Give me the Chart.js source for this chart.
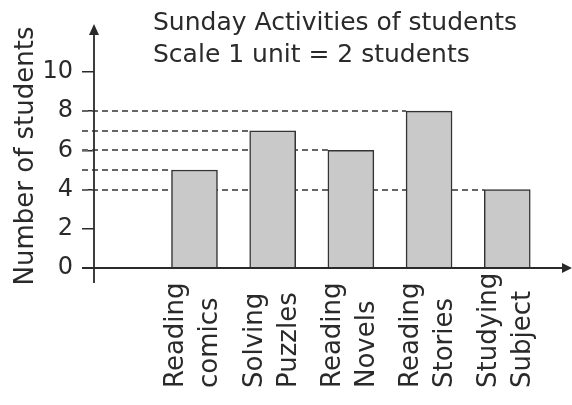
<!DOCTYPE html>
<html>
<head>
<meta charset="utf-8">
<script src="https://cdn.jsdelivr.net/npm/chart.js@4/dist/chart.umd.min.js"></script>
<style>
  body { margin: 0; background: #fff; }
</style>
</head>
<body>
<canvas id="chart" width="572" height="405"></canvas>
<script>
// chart data
const titleLines = ['Sunday Activities of students', 'Scale 1 unit = 2 students'];
const categories = [['Reading', 'comics'], ['Solving', 'Puzzles'], ['Reading', 'Novels'], ['Reading', 'Stories'], ['Studying', 'Subject']];
const students = [5, 7, 6, 8, 4];
const yTicks = [0, 2, 4, 6, 8, 10];
const yTitle = 'Number of students';

const ink = '#2a2a2a';
Chart.defaults.font.family = 'DejaVu Sans';
Chart.defaults.color = ink;

const extras = {
  id: 'extras',
  beforeDatasetsDraw(chart) {
    // dashed guides from the y axis to each bar top
    const ctx = chart.ctx;
    const y = chart.scales.y;
    const bars = chart.getDatasetMeta(0).data;
    ctx.save();
    ctx.strokeStyle = '#666';
    ctx.lineWidth = 2;
    ctx.setLineDash([6, 4]);
    bars.forEach((bar, i) => {
      const py = Math.round(y.getPixelForValue(students[i]));
      ctx.beginPath();
      ctx.moveTo(chart.chartArea.left - 12, py);
      ctx.lineTo(bar.x - bar.width / 2, py);
      ctx.stroke();
    });
    ctx.restore();
  },
  afterDatasetsDraw(chart) {
    // axes with arrow heads
    const ctx = chart.ctx;
    const {left, right, bottom} = chart.chartArea;
    ctx.save();
    ctx.strokeStyle = ink;
    ctx.fillStyle = ink;
    ctx.lineWidth = 1.8;
    ctx.beginPath();
    ctx.moveTo(left, bottom + 15);
    ctx.lineTo(left, 32);
    ctx.moveTo(left - 12, bottom);
    ctx.lineTo(right + 2, bottom);
    ctx.stroke();
    ctx.beginPath();
    ctx.moveTo(left, 24);
    ctx.lineTo(left - 5, 35);
    ctx.lineTo(left + 5, 35);
    ctx.closePath();
    ctx.fill();
    ctx.beginPath();
    ctx.moveTo(right + 10, bottom);
    ctx.lineTo(right, bottom - 5);
    ctx.lineTo(right, bottom + 5);
    ctx.closePath();
    ctx.fill();
    ctx.restore();
  },
  afterDraw(chart) {
    const ctx = chart.ctx;
    ctx.save();
    ctx.fillStyle = ink;
    ctx.textBaseline = 'alphabetic';
    // title
    ctx.font = '25px "DejaVu Sans"';
    ctx.textAlign = 'left';
    ctx.fillText(titleLines[0], 153, 30);
    ctx.fillText(titleLines[1], 153, 62);
    // y axis title
    ctx.save();
    ctx.translate(33, 156);
    ctx.rotate(-Math.PI / 2);
    ctx.font = '26px "DejaVu Sans"';
    ctx.textAlign = 'center';
    ctx.fillText(yTitle, 0, 0);
    ctx.restore();
    // category labels, rotated
    const x = chart.scales.x;
    ctx.font = '26px "DejaVu Sans"';
    categories.forEach((lines, i) => {
      const px = x.getPixelForValue(i + 1);
      ctx.save();
      ctx.translate(px, 388);
      ctx.rotate(-Math.PI / 2);
      ctx.textAlign = 'left';
      ctx.fillText(lines[0], 0, -11);
      ctx.fillText(lines[1], 0, 23);
      ctx.restore();
    });
    ctx.restore();
  }
};

new Chart(document.getElementById('chart'), {
  type: 'bar',
  data: {
    datasets: [{
      data: students.map((v, i) => ({ x: i + 1, y: v })),
      backgroundColor: '#c9c9c9',
      borderColor: '#333',
      borderWidth: 1.5,
      barThickness: 46
    }]
  },
  options: {
    responsive: false,
    animation: false,
    layout: { padding: { left: 0, top: 72, right: 10, bottom: 137 } },
    plugins: { legend: { display: false }, tooltip: { enabled: false } },
    scales: {
      x: {
        type: 'linear',
        display: false,
        offset: false,
        min: -0.285,
        max: 5.7
      },
      y: {
        min: 0,
        max: 10,
        afterFit: s => { s.width = 94; },
        afterBuildTicks: s => { s.ticks = yTicks.map(v => ({ value: v })); },
        border: { display: false },
        grid: { drawOnChartArea: false, drawTicks: true, tickLength: 12, color: ink, lineWidth: 1.5 },
        ticks: { padding: 9, font: { size: 24 }, color: ink }
      }
    }
  },
  plugins: [extras]
});
</script>
</body>
</html>
